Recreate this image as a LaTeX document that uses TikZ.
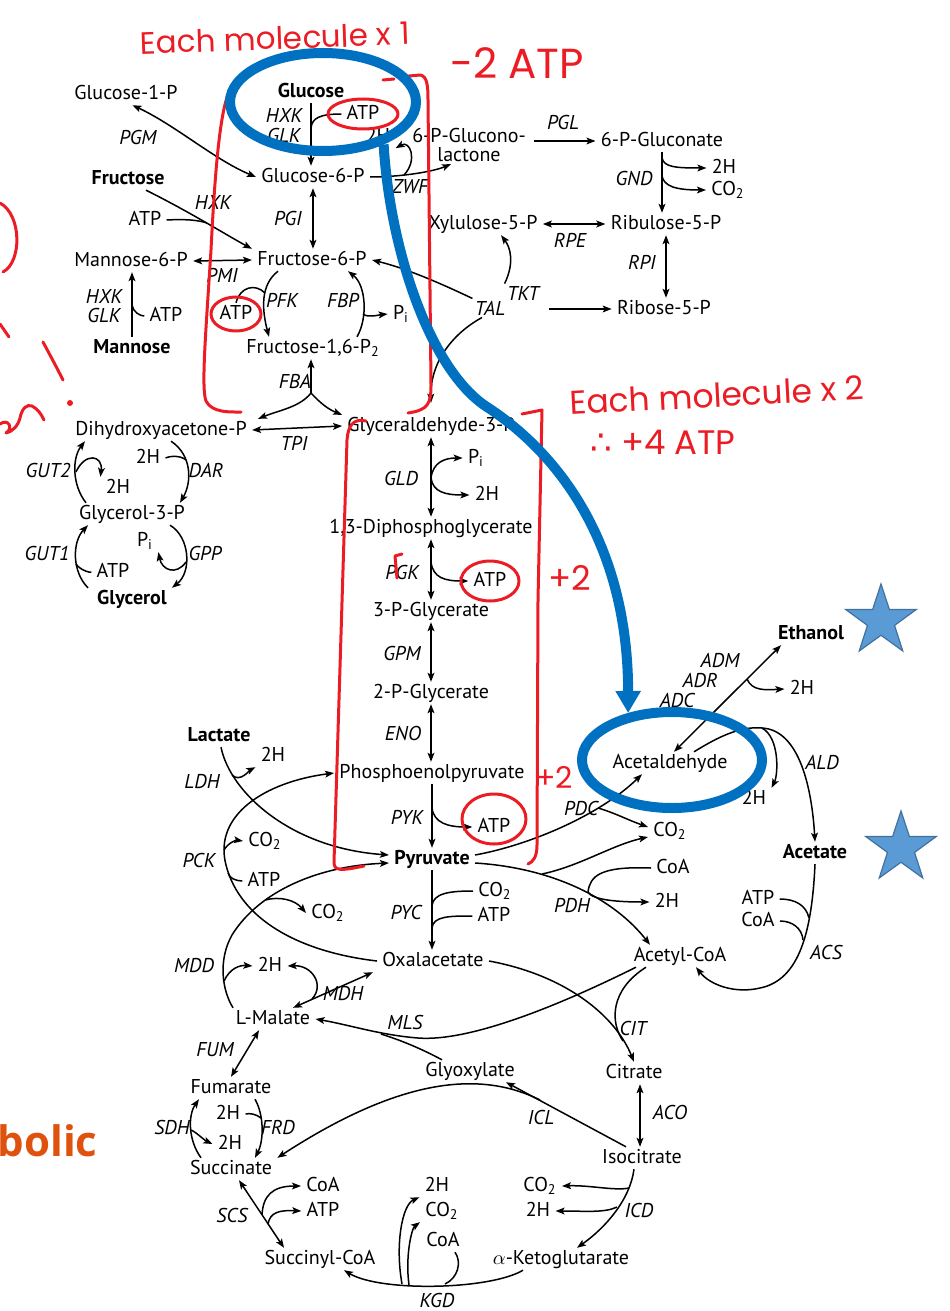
\documentclass[tikz,border=0pt]{standalone}
\usepackage{fontspec}
\setmainfont{PT Sans}
\newfontfamily\handfont{Poppins}
\newfontfamily\symfont{DejaVu Sans}
\newfontfamily\bannerfont{Open Sans}
\usetikzlibrary{arrows.meta,shapes.geometric}

\definecolor{penred}{RGB}{235,28,36}
\definecolor{penblue}{RGB}{0,112,192}
\definecolor{starfill}{RGB}{91,155,213}
\definecolor{stardraw}{RGB}{65,113,156}
\definecolor{bannerorange}{RGB}{222,82,14}

\tikzset{
  met/.style={inner xsep=2.5pt, inner ysep=1pt, text height=7pt, text depth=1.8pt},
  metb/.style={met, font=\fontsize{10}{11}\selectfont\bfseries},
  enz/.style={inner sep=1pt, font=\fontsize{10}{11}\selectfont\itshape},
  smalltip/.tip={Stealth[length=4.5pt, width=3.4pt, inset=1pt]},
  rxn/.style={line width=0.75pt, -smalltip},
  rev/.style={line width=0.75pt, smalltip-smalltip},
  cofl/.style={line width=0.75pt},
  redpen/.style={draw=penred, line width=1.5pt, line cap=round, line join=round},
  handnote/.style={text=penred, inner sep=0pt, font=\handfont\fontsize{15.5}{15.5}\selectfont},
  bluepen/.style={draw=penblue, line width=5pt},
  bluering/.style={ellipse, draw=penblue, line width=5pt, inner sep=0pt},
  bluestar/.style={star, star points=5, star point ratio=2.6, minimum size=37pt,
    inner sep=0pt, fill=starfill, draw=stardraw, line width=0.6pt}
}

\begin{document}
\begin{tikzpicture}[x=0.5pt, y=-0.5pt, font=\fontsize{10}{11}\selectfont]
\useasboundingbox (0,0) rectangle (949,1311);

% metabolites
\node[metb] (glc) at (311,92) {Glucose};
\node[met] (g1p) at (126,94) {Glucose-1-P};
\node[met] (g6p) at (313,177) {Glucose-6-P};
\node[metb] (fru) at (128,179) {Fructose};
\node[met] (f6p) at (312,260) {Fructose-6-P};
\node[met] (m6p) at (131,261) {Mannose-6-P};
\node[metb] (man) at (132,348) {Mannose};
\node[met] (fbp) at (313,348) {Fructose-1,6-P\textsubscript{2}};
\node[met] (dhap) at (161,430) {Dihydroxyacetone-P};
\node[met] (gap) at (431,426) {Glyceraldehyde-3-P};
\node[inner sep=1pt, align=center, font=\fontsize{10}{9.5}\selectfont] (pgl6) at (469,145) {6-P-Glucono-\\lactone};
\node[met] (gnt6) at (662,141) {6-P-Gluconate};
\node[met] (ru5p) at (666,224) {Ribulose-5-P};
\node[met] (xu5p) at (483,224) {Xylulose-5-P};
\node[met] (r5p) at (664,309) {Ribose-5-P};
\node[met] (g3p) at (132,514) {Glycerol-3-P};
\node[metb] (gly) at (132,599) {Glycerol};
\node[met] (bpg) at (431,528) {1,3-Diphosphoglycerate};
\node[met] (pg3) at (431,611) {3-P-Glycerate};
\node[met] (pg2) at (431,693) {2-P-Glycerate};
\node[met] (pep) at (432,773) {Phosphoenolpyruvate};
\node[metb] (pyr) at (432,859) {Pyruvate};
\node[met] (oaa) at (433,961) {Oxalacetate};
\node[metb] (lac) at (219,736) {Lactate};
\node[met] (mal) at (273,1019) {L-Malate};
\node[met] (fum) at (231,1088) {Fumarate};
\node[met] (suc) at (231,1169) {Succinate};
\node[met] (succoa) at (320,1259) {Succinyl-CoA};
\node[met] (akg) at (561,1259) {$\alpha$-Ketoglutarate};
\node[met] (icit) at (642,1158) {Isocitrate};
\node[met] (cit) at (634,1073) {Citrate};
\node[met] (glx) at (470,1071) {Glyoxylate};
\node[met] (accoa) at (680,956) {Acetyl-CoA};
\node[met] (acald) at (670,763) {Acetaldehyde};
\node[metb] (etoh) at (811,634) {Ethanol};
\node[metb] (ace) at (815,853) {Acetate};

% enzymes
\node[enz] (pgm) at (138,137) {PGM};
\node[enz] (hxka) at (284,116) {HXK};
\node[enz] (glka) at (284,135) {GLK};
\node[enz] (zwf) at (410,187) {ZWF};
\node[enz] (pgl) at (563,123) {PGL};
\node[enz] (gnd) at (634,178) {GND};
\node[enz] (rpe) at (570,240) {RPE};
\node[enz] (rpi) at (642,262) {RPI};
\node[enz] (tkt) at (523,293) {TKT};
\node[enz] (tal) at (490,308) {TAL};
\node[enz] (hxkb) at (213,202) {HXK};
\node[enz] (pgi) at (288,218) {PGI};
\node[enz] (pmi) at (222,275) {PMI};
\node[enz] (hxkc) at (104,296) {HXK};
\node[enz] (glkc) at (104,315) {GLK};
\node[enz] (pfk) at (282,300) {PFK};
\node[enz] (fbpe) at (343,300) {FBP};
\node[enz] (fba) at (295,381) {FBA};
\node[enz] (tpi) at (294,443) {TPI};
\node[enz] (gut2) at (48,470) {GUT2};
\node[enz] (dar) at (206,470) {DAR};
\node[enz] (gut1) at (47,553) {GUT1};
\node[enz] (gpp) at (205,553) {GPP};
\node[enz] (gld) at (401,478) {GLD};
\node[enz] (pgk) at (402,572) {PGK};
\node[enz] (gpm) at (402,653) {GPM};
\node[enz] (eno) at (403,733) {ENO};
\node[enz] (pyk) at (407,817) {PYK};
\node[enz] (pyc) at (406,912) {PYC};
\node[enz] (ldh) at (202,782) {LDH};
\node[enz] (pck) at (199,860) {PCK};
\node[enz] (mdd) at (194,965) {MDD};
\node[enz] (mdh) at (343,993) {MDH};
\node[enz] (mls) at (405,1022) {MLS};
\node[enz] (fumase) at (215,1050) {FUM};
\node[enz] (sdh) at (172,1127) {SDH};
\node[enz] (frd) at (278,1127) {FRD};
\node[enz] (scs) at (232,1215) {SCS};
\node[enz] (kgd) at (437,1300) {KGD};
\node[enz] (icd) at (639,1210) {ICD};
\node[enz] (icl) at (541,1117) {ICL};
\node[enz] (aco) at (670,1112) {ACO};
\node[enz] (cs) at (633,1028) {CIT};
\node[enz] (pdh) at (572,905) {PDH};
\node[enz] (pdc) at (581,808) {PDC};
\node[enz] (adm) at (720,660) {ADM};
\node[enz] (adr) at (700,680) {ADR};
\node[enz] (adc) at (677,700) {ADC};
\node[enz] (ald) at (822,762) {ALD};
\node[enz] (acs) at (826,952) {ACS};

% cofactors
\node[met] (atpa) at (363,114) {ATP};
\node[met] (h2z) at (378,137) {2H};
\node[met] (h2g) at (724,168) {2H};
\node[met] (co2g) at (728,190) {CO\textsubscript{2}};
\node[met] (atpb) at (145,220) {ATP};
\node[met] (atpc) at (166,316) {ATP};
\node[met] (atpd) at (236,314) {ATP};
\node[met] (pia) at (401,314) {P\textsubscript{i}};
\node[met] (h2d) at (148,458) {2H};
\node[met] (h2gut) at (118,488) {2H};
\node[met] (pib) at (145,541) {P\textsubscript{i}};
\node[met] (atpe) at (113,572) {ATP};
\node[met] (pic) at (476,458) {P\textsubscript{i}};
\node[met] (h2l) at (487,495) {2H};
\node[met] (atpf) at (490,581) {ATP};
\node[met] (atpg) at (494,827) {ATP};
\node[met] (co2y) at (495,891) {CO\textsubscript{2}};
\node[met] (atph) at (494,916) {ATP};
\node[met] (h2lac) at (273,756) {2H};
\node[met] (co2p) at (265,841) {CO\textsubscript{2}};
\node[met] (atpi) at (264,881) {ATP};
\node[met] (co2m) at (328,913) {CO\textsubscript{2}};
\node[met] (h2m) at (270,966) {2H};
\node[met] (co2d) at (670,831) {CO\textsubscript{2}};
\node[met] (coad) at (673,868) {CoA};
\node[met] (h2p) at (667,902) {2H};
\node[met] (h2e) at (802,689) {2H};
\node[met] (h2a) at (754,799) {2H};
\node[met] (atpj) at (758,899) {ATP};
\node[met] (coaa) at (758,921) {CoA};
\node[met] (h2st) at (228,1114) {2H};
\node[met] (h2sb) at (230,1144) {2H};
\node[met] (coas) at (323,1186) {CoA};
\node[met] (atps) at (323,1211) {ATP};
\node[met] (h2k) at (437,1186) {2H};
\node[met] (co2k) at (442,1211) {CO\textsubscript{2}};
\node[met] (coak) at (443,1241) {CoA};
\node[met] (co2i) at (540,1186) {CO\textsubscript{2}};
\node[met] (h2i) at (538,1211) {2H};

% junctions on the reaction lines
\coordinate (hxkj) at (311,128);
\coordinate (fruj) at (207,223);
\coordinate (manj) at (132,305);
\coordinate (pfkj) at (265,293);
\coordinate (fbpj) at (363,314);
\coordinate (fbaj) at (311,393);
\coordinate (zwfj) at (404,175);
\coordinate (gndj1) at (662,158);
\coordinate (gndj2) at (662,176);
\coordinate (gut2j) at (76,472);
\coordinate (darj) at (186,460);
\coordinate (gut1j) at (76,564);
\coordinate (gppj) at (186,562);
\coordinate (gldj) at (431,478);
\coordinate (pgkj) at (431,562);
\coordinate (pykj) at (432,808);
\coordinate (pycj1) at (432,906);
\coordinate (pycj2) at (432,928);
\coordinate (ldhj) at (232,775);
\coordinate (pckm) at (226,865);
\coordinate (pckj1) at (224,850);
\coordinate (pckj2) at (228,873);
\coordinate (mddm) at (232,935);
\coordinate (mddj1) at (265,900);
\coordinate (mddj2) at (224,981);
\coordinate (mdhj) at (312,999);
\coordinate (mlsm) at (418,1038);
\coordinate (mlsj) at (381,1034);
\coordinate (citj) at (623,1041);
\coordinate (iclj) at (540,1100);
\coordinate (icdj1) at (629,1188);
\coordinate (icdj2) at (617,1207);
\coordinate (kgdj1) at (402,1284);
\coordinate (kgdj2) at (409,1285);
\coordinate (kgdj3) at (445,1284);
\coordinate (scsj1) at (262,1215);
\coordinate (scsj2) at (268,1224);
\coordinate (sdhj) at (191,1130);
\coordinate (frdj) at (261,1118);
\coordinate (pdcj) at (598,808);
\coordinate (pdhj1) at (542,874);
\coordinate (pdhj2) at (588,892);
\coordinate (adhj) at (747,679);
\coordinate (aldm) at (762,728);
\coordinate (acsm) at (760,988);
\coordinate (acsj1) at (809,918);
\coordinate (acsj2) at (803,940);

% upper glycolysis
\draw[rxn] (glc.south) -- (glc.south |- g6p.north);
\draw[cofl] (atpa.west) .. controls (320,114) and (312,118) .. (hxkj);
\draw[rev] (g1p.300) .. controls (175,125) and (215,160) .. (g6p.west);
\draw[rxn] ([xshift=9pt]fru.south) .. controls (190,212) and (228,236) .. (f6p.north west);
\draw[cofl] (atpb.east) .. controls (185,219) and (198,220) .. (fruj);
\draw[rev] (g6p.south) -- (g6p.south |- f6p.north);
\draw[rev] (m6p.east) -- (f6p.west);
\draw[rxn] (man.north) -- (man.north |- m6p.south);
\draw[cofl] (atpc.west) .. controls (140,316) and (133,312) .. (manj);
\draw[rxn] ([xshift=-17pt]f6p.south) .. controls (260,285) and (262,310) .. ([xshift=-22pt]fbp.north);
\draw[cofl] (atpd.north) .. controls (240,287) and (255,283) .. (pfkj);
\draw[rxn] ([xshift=22pt]fbp.north) .. controls (368,318) and (366,285) .. ([xshift=18pt]f6p.south);
\draw[rxn] (fbpj) .. controls (368,318) and (378,315) .. (pia.west);
\draw[rxn] (fbaj) -- (fbaj |- fbp.south);
\draw[rxn] (fbaj) .. controls (300,407) and (280,410) .. ([xshift=3pt]dhap.north east);
\draw[rxn] (fbaj) .. controls (322,405) and (330,410) .. (gap.north west);
\draw[rev] (dhap.east) -- (gap.west);

% pentose phosphate
\draw[rxn] (g6p.east) .. controls (400,177) and (432,172) .. ([xshift=-9pt]pgl6.south);
\draw[rxn] (zwfj) .. controls (418,160) and (410,140) .. (h2z.south east);
\draw[rxn] ([xshift=3pt]pgl6.east |- gnt6.west) -- (gnt6.west);
\draw[rxn] (gnt6.south) -- (gnt6.south |- ru5p.north);
\draw[rxn] (gndj1) .. controls (664,167) and (675,168) .. (h2g.west);
\draw[rxn] (gndj2) .. controls (664,186) and (675,190) .. (co2g.west);
\draw[rev] (xu5p.east) -- (ru5p.west);
\draw[rev] (ru5p.south) -- (ru5p.south |- r5p.north);
\draw[rxn] ([xshift=4pt]tkt.east |- r5p.west) -- (r5p.west);
\draw[rxn] (tkt.north west) .. controls (515,262) and (510,247) .. ([xshift=9pt]xu5p.south);
\draw[rxn] (tal.north west) .. controls (440,283) and (405,268) .. (f6p.east);
\draw[rxn] ([xshift=-4pt]tal.south) .. controls (450,335) and (430,365) .. ([yshift=6pt]gap.north);

% glycerol
\draw[rxn] ([xshift=-23pt]g3p.north) .. controls (72,485) and (72,458) .. ([xshift=-38pt]dhap.south);
\draw[rxn] (gut2j) .. controls (85,452) and (103,455) .. (h2gut.north west);
\draw[rxn] ([xshift=5pt]dhap.south) .. controls (192,455) and (192,482) .. ([xshift=24pt]g3p.north);
\draw[cofl] (h2d.east) .. controls (170,456) and (180,455) .. (darj);
\draw[rxn] ([xshift=-22pt]gly.north) .. controls (72,572) and (72,542) .. ([xshift=-22pt]g3p.south);
\draw[cofl] (atpe.west) .. controls (90,573) and (80,570) .. (gut1j);
\draw[rxn] ([xshift=19pt]g3p.south) .. controls (190,537) and (192,572) .. ([xshift=20pt]gly.north);
\draw[rxn] (gppj) .. controls (176,576) and (162,570) .. (pib.south east);

% lower glycolysis
\draw[rev] (gap.south) -- (gap.south |- bpg.north);
\draw[rxn] (gldj) .. controls (433,462) and (445,458) .. (pic.west);
\draw[rxn] (gldj) .. controls (433,492) and (445,495) .. (h2l.west);
\draw[rev] (bpg.south) -- (bpg.south |- pg3.north);
\draw[rxn] (pgkj) .. controls (433,578) and (445,581) .. (atpf.west);
\draw[rev] (pg3.south) -- (pg3.south |- pg2.north);
\draw[rev] (pg2.south) -- (pg2.south |- pep.north);
\draw[rxn] (pep.south) -- (pep.south |- pyr.north);
\draw[rxn] (pykj) .. controls (434,823) and (448,827) .. (atpg.west);
\draw[rxn] (pyr.south) -- (pyr.south |- oaa.north);
\draw[cofl] (co2y.west) .. controls (450,891) and (433,893) .. (pycj1);
\draw[cofl] (atph.west) .. controls (450,916) and (433,916) .. (pycj2);

% around pyruvate and oxalacetate
\draw[rxn] ([xshift=1pt]lac.south) .. controls (230,792) and (290,848) .. ([yshift=2pt]pyr.west);
\draw[rxn] (ldhj) .. controls (240,783) and (250,770) .. (h2lac.south west);
\draw[rxn] (oaa.west) .. controls (300,952) and (240,920) .. (pckm) .. controls (213,815) and (265,782) .. (pep.west);
\draw[rxn] (pckj1) .. controls (228,843) and (236,840) .. (co2p.west);
\draw[cofl] (atpi.west) .. controls (236,881) and (229,878) .. (pckj2);
\draw[rxn] ([xshift=-20pt]mal.north) .. controls (222,990) and (218,960) .. (mddm) .. controls (260,890) and (320,866) .. ([yshift=-2pt]pyr.west);
\draw[rxn] (mddj1) .. controls (280,896) and (295,900) .. (co2m.west);
\draw[rxn] (mddj2) .. controls (230,968) and (240,965) .. (h2m.west);
\draw[rev] ([xshift=10pt]mal.north) -- ([xshift=-30pt]oaa.south);
\draw[rxn] (mdhj) .. controls (325,985) and (312,965) .. (h2m.east);

% glyoxylate and citrate cycle
\draw[rxn] ([xshift=-22pt]accoa.south) .. controls (560,1005) and (470,1042) .. (mlsm) .. controls (380,1035) and (350,1025) .. (mal.east);
\draw[cofl] ([xshift=-14pt]glx.north) .. controls (420,1048) and (400,1040) .. (mlsj);
\draw[rxn] (oaa.east) .. controls (565,975) and (615,1015) .. (cit.north);
\draw[cofl] ([xshift=-17pt]accoa.south) .. controls (610,990) and (610,1022) .. (citj);
\draw[rev] ([xshift=3pt]cit.south) -- ([xshift=3pt]cit.south |- icit.north);
\draw[rxn] ([xshift=-8pt]icit.north) -- ([xshift=18pt]glx.south);
\draw[rxn] (iclj) .. controls (480,1070) and (400,1078) .. (suc.north east);
\draw[rxn] ([xshift=-4pt]icit.south) .. controls (630,1200) and (605,1228) .. ([xshift=8pt]akg.north);
\draw[rxn] (icdj1) .. controls (615,1191) and (590,1185) .. (co2i.east);
\draw[rxn] (icdj2) .. controls (605,1213) and (585,1211) .. (h2i.east);
\draw[rxn] ([xshift=-19pt]akg.south) .. controls (490,1290) and (380,1292) .. ([xshift=12pt]succoa.south);
\draw[rxn] (kgdj1) .. controls (395,1245) and (402,1205) .. (h2k.south west);
\draw[rxn] (kgdj2) .. controls (405,1255) and (412,1228) .. (co2k.south west);
\draw[cofl] ([xshift=6pt]coak.south) .. controls (462,1262) and (458,1278) .. (kgdj3);
\draw[rev] ([xshift=-18pt]succoa.north) -- ([xshift=4pt]suc.south);
\draw[rxn] (scsj1) .. controls (263,1196) and (272,1186) .. (coas.west);
\draw[rxn] (scsj2) .. controls (270,1212) and (280,1210) .. (atps.west);
\draw[rxn] ([xshift=-15pt]suc.north) .. controls (188,1140) and (188,1115) .. ([xshift=-16pt]fum.south);
\draw[rxn] (sdhj) .. controls (196,1132) and (204,1140) .. (h2sb.west);
\draw[rxn] ([xshift=12pt]fum.south) .. controls (264,1115) and (264,1140) .. ([xshift=12pt]suc.north);
\draw[cofl] (h2st.east) .. controls (250,1113) and (256,1114) .. (frdj);
\draw[rev] ([xshift=-7pt]mal.south) -- (fum.north);

% pyruvate branch to acetate
\draw[rxn] ([yshift=2pt]pyr.east) .. controls (530,845) and (600,815) .. ([xshift=-14pt]acald.south);
\draw[rxn] (pdcj) .. controls (615,813) and (628,820) .. ([yshift=2pt]co2d.west);
\draw[rxn] ([yshift=-2pt]pyr.east) .. controls (555,868) and (615,900) .. ([xshift=-15pt]accoa.north);
\draw[rxn] (pdhj1) .. controls (580,866) and (612,845) .. ([yshift=-3pt]co2d.west);
\draw[cofl] (coad.west) .. controls (600,866) and (590,876) .. (pdhj2);
\draw[rxn] (pdhj2) .. controls (592,900) and (618,902) .. (h2p.west);
\draw[rev] ([xshift=2pt]acald.north) -- ([xshift=-15pt]etoh.south);
\draw[rxn] (adhj) .. controls (752,691) and (765,690) .. (h2e.west);
\draw[rxn] ([xshift=12pt]acald.north) .. controls (718,737) and (740,726) .. (aldm) .. controls (800,730) and (812,790) .. (ace.north);
\draw[rxn] (aldm) .. controls (780,738) and (778,775) .. (h2a.north east);
\draw[rxn] (ace.south) .. controls (812,930) and (800,980) .. (acsm) .. controls (735,994) and (710,985) .. ([xshift=8pt]accoa.south);
\draw[cofl] (atpj.east) .. controls (795,899) and (806,905) .. (acsj1);
\draw[cofl] (coaa.east) .. controls (792,921) and (802,928) .. (acsj2);

% red pen notes
\draw[redpen] (atpa) ellipse [x radius=35, y radius=15];
\draw[redpen] (atpd) ellipse [x radius=25, y radius=17];
\draw[redpen] (atpf) ellipse [x radius=29, y radius=20];
\draw[redpen] ([yshift=4pt]atpg) ellipse [x radius=32, y radius=25];
\draw[redpen] (234,84) .. controls (222,95) and (216,150) .. (211,250) .. controls (206,330) and (201,388) .. (206,401) .. controls (212,413) and (230,412) .. (241,412);
\draw[redpen] (383,80) -- (394,79);
\draw[redpen] (398,77) -- (420,75) .. controls (427,76) and (428,85) .. (428,100) -- (431,385) .. controls (431,404) and (428,410) .. (408,413);
\draw[redpen] (366,421) .. controls (353,418) and (348,426) .. (347,440) -- (334,862) .. controls (334,871) and (340,871) .. (364,866);
\draw[redpen] (522,414) -- (542,410) -- (538,600) -- (537,845) .. controls (537,857) and (533,862) .. (528,864);
\draw[redpen] (402,554) -- (395,556) -- (397,578);
\node[handnote, rotate=2] (note1) at (275,38) {Each molecule x 1};
\node[handnote, font=\handfont\fontsize{21}{21}\selectfont] (note2) at (517,63) {-2 ATP};
\node[handnote, font=\handfont\fontsize{16.5}{16.5}\selectfont, rotate=3] (note3) at (717,395) {Each molecule x 2};
\node[handnote, font=\handfont\fontsize{17}{17}\selectfont] (note4) at (663,442) {{\symfont ∴} +4 ATP};
\node[handnote, font=\handfont\fontsize{17}{17}\selectfont] (plus1) at (570,578) {+2};
\node[handnote, font=\handfont\fontsize{15}{15}\selectfont] (plus2) at (554,777) {+2};
\draw[redpen] (0,203) .. controls (22,215) and (22,262) .. (3,272);
\draw[redpen] (0,324) -- (9,337);
\draw[redpen] (43,342) .. controls (50,355) and (57,368) .. (63,380);
\fill[penred] (70,403) circle [radius=3];
\draw[redpen] (0,424) .. controls (8,418) and (14,428) .. (6,433) .. controls (12,432) and (18,426) .. (20,418) .. controls (22,408) and (27,404) .. (32,406) .. controls (38,409) and (41,414) .. (44,420);

% blue pen notes
\node[bluering, minimum width=93pt, minimum height=49pt] (ringglc) at (323,102) {};
\node[bluering, minimum width=90pt, minimum height=48pt] (ringald) at (672,760) {};
\coordinate (bluem) at (487,407);
\draw[bluepen, -{Triangle[length=11pt, width=12pt]}] (ringglc.-35) .. controls (390,250) and (430,370) .. (bluem) .. controls (555,451) and (628,540) .. (ringald.133);
\node[bluestar] (star1) at (881,621) {};
\node[bluestar] (star2) at (901,848) {};
\node[anchor=east, inner sep=0pt, text=bannerorange, font=\bannerfont\bfseries\fontsize{21}{21}\selectfont] (banner) at (98,1141) {bolic};

\end{tikzpicture}
\end{document}
